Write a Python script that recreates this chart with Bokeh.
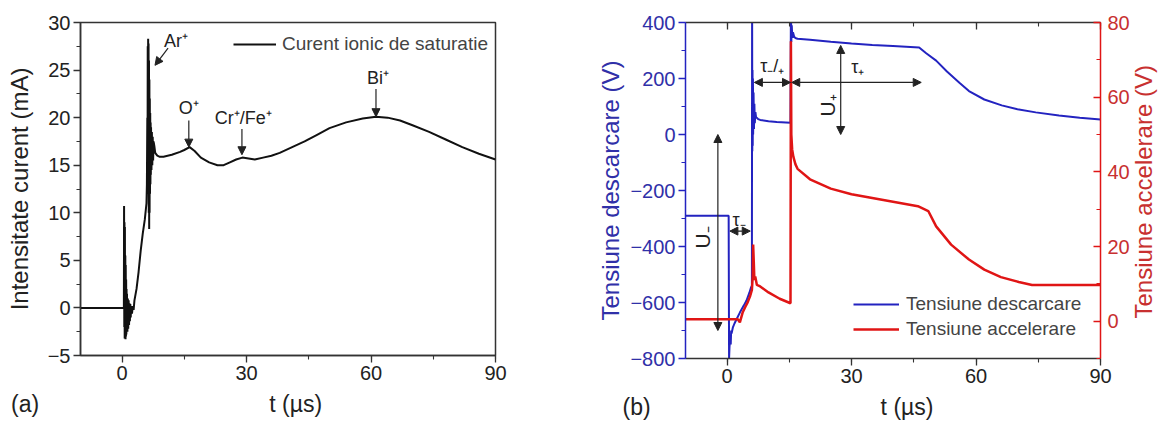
import math
from bokeh.plotting import figure
from bokeh.models import (Range1d, LinearAxis, SingleIntervalTicker, Arrow,
                          NormalHead, Label, Legend, LegendItem)
from bokeh.layouts import row
from bokeh.embed import file_html
from bokeh.resources import INLINE

FONT = "Liberation Sans"
BLUE = "#2323c0"
BLUE_TXT = "#3030a8"
RED = "#e01515"
RED_TXT = "#c83030"
INK = "#222222"
NB = "\u00a0"

# ---------------- data, panel (a) ----------------
t_a = [-10, 0.45, 0.5, 0.55, 0.6, 0.65, 0.7, 0.75, 0.8, 0.85,
       0.9, 0.95, 1.0, 1.05, 1.1, 1.15, 1.2, 1.3, 1.4, 1.5,
       1.6, 1.7, 1.8, 1.9, 2.0, 2.1, 2.2, 2.4, 2.6, 2.8,
       3.0, 3.5, 4.0, 4.5, 5.0, 5.5, 5.9, 6.0, 6.1, 6.15,
       6.2, 6.25, 6.3, 6.35, 6.4, 6.45, 6.5, 6.55, 6.6, 6.65,
       6.7, 6.75, 6.8, 6.85, 6.9, 6.95, 7.0, 7.1, 7.2, 7.3,
       7.4, 7.5, 7.6, 7.8, 8.0, 8.5, 9, 10, 12, 14,
       15, 16.3, 17.5, 19, 21, 23, 24.5, 26, 27.5, 29,
       30.5, 32, 34, 36, 38, 41, 44, 47, 50, 54,
       58, 61.2, 64, 67, 70, 74, 78, 82, 86, 90]
i_a = [0, 0, 10.7, -2, 9, -3.2, 8.5, -3, 5.5, -3.3,
       4.5, -3, 3, -2.8, 2, -2.5, 1.5, -2.5, 1.0, -2.2,
       0.8, -1.8, 0.5, -1.4, 0.4, -1.0, 0.2, -0.6, 0.2, -0.2,
       0.8, 2.0, 3.8, 6.0, 7.8, 9.3, 11.0, 13, 20, 12,
       27.5, 13, 28.3, 12, 27.8, 10, 26, 8.3, 24, 10,
       22, 12, 20.5, 13, 19.5, 14, 19, 14.5, 18.5, 15,
       18, 15.5, 17.5, 17, 16.3, 16.0, 15.9, 15.9, 16.1, 16.4,
       16.6, 16.9, 16.5, 15.8, 15.3, 15.0, 15.0, 15.3, 15.6, 15.8,
       15.7, 15.6, 15.8, 16.0, 16.3, 16.9, 17.5, 18.2, 18.9, 19.5,
       19.9, 20.1, 20.0, 19.7, 19.2, 18.5, 17.7, 16.9, 16.2, 15.6]

# ---------------- data, panel (b) ----------------
t_d = [-10, 0.4, 0.5, 0.6, 0.8, 0.9, 1.0, 1.1, 1.4, 1.8,
       2.3, 3.1, 4.0, 4.7, 5.4, 5.8, 6.0, 6.05, 6.1, 6.15,
       6.2, 6.25, 6.3, 6.4, 6.5, 6.6, 6.7, 6.85, 7.0, 7.5,
       8.0, 10, 12, 15.3, 15.4, 15.5, 15.6, 15.75, 15.9, 16.2,
       16.6, 17, 20, 25, 30, 35, 40, 46.3, 48, 50.4,
       53, 56, 58.3, 62, 66.2, 70, 74.4, 80, 85, 90]
v_d = [-290, -290, -800, -760, -720, -750, -700, -711, -690, -675,
       -660, -636, -612, -593, -565, -546, -540, 480, -60, 230,
       -40, 200, 0, 150, 20, 110, 40, 80, 62, 55,
       52, 47, 45, 42, 470, 330, 390, 345, 365, 348,
       344, 342, 338, 331, 325, 320, 316, 311, 290, 264,
       225, 185, 155, 125, 104, 90, 79, 68, 60, 54]

t_r = [-10, 2.6, 3.1, 3.8, 4.4, 5.0, 5.6, 6.0, 6.2, 6.3,
       6.45, 6.6, 6.8, 7.2, 8.0, 10, 12.7, 15.3, 15.4, 15.5,
       15.7, 16, 16.5, 17, 20, 25, 30, 35, 40, 46,
       48.5, 50.4, 54, 58.3, 62, 66, 70.3, 73.5, 80, 90]
v_r = [0.5, 0.5, -0.3, 2.4, 3.8, 5.1, 6.8, 8.4, 12, 20.5,
       16, 11, 12, 9.7, 9.3, 7.7, 6.0, 4.8, 75, 50,
       46, 44, 42, 40.8, 38, 35.5, 34, 33, 32, 30.8,
       29.5, 25.4, 20.5, 16.5, 13.8, 11.8, 10.5, 9.7, 9.7, 9.7]

x_ticks_step = 30
y_a_step = 5
y_d_step = 200
y_r_step = 20

TICK_FS = "20px"
AXLAB_FS = "24px"
XLAB_FS = "23px"


def style_axis(ax, color, txt_color, out=7, inn=0, mout=4, minn=0):
    ax.axis_line_color = color
    ax.axis_line_width = 1.5
    ax.major_tick_line_color = color
    ax.minor_tick_line_color = color
    ax.major_tick_line_width = 1.3
    ax.minor_tick_line_width = 1.1
    ax.major_tick_out = out
    ax.major_tick_in = inn
    ax.minor_tick_out = mout
    ax.minor_tick_in = minn
    ax.major_label_text_font = FONT
    ax.major_label_text_font_size = TICK_FS
    ax.major_label_text_color = txt_color
    ax.axis_label_text_font = FONT
    ax.axis_label_text_font_size = AXLAB_FS
    ax.axis_label_text_font_style = "normal"
    ax.axis_label_text_color = txt_color


def arrow(p, x0, y0, x1, y1, both=False):
    head = NormalHead(size=8, fill_color=INK, line_color=INK)
    start = NormalHead(size=8, fill_color=INK, line_color=INK) if both else None
    p.add_layout(Arrow(start=start, end=head, x_start=x0, y_start=y0,
                       x_end=x1, y_end=y1, line_color=INK, line_width=1.2))


def label(p, x, y, text, size="18px", angle=0.0, align="center",
          baseline="middle", color=INK):
    p.add_layout(Label(x=x, y=y, text=text, text_font=FONT,
                       text_font_size=size, text_color=color, angle=angle,
                       text_align=align, text_baseline=baseline))


# ---------------- panel (a) ----------------
pa = figure(width=583, height=423, frame_width=415, frame_height=333,
            x_range=Range1d(-10, 90), y_range=Range1d(-5, 30),
            output_backend="svg", toolbar_location=None,
            min_border_left=80, min_border_right=88,
            min_border_top=22, min_border_bottom=68)
pa.grid.visible = False
pa.outline_line_color = "#333333"
pa.outline_line_width = 1.5
pa.xaxis.ticker = SingleIntervalTicker(interval=x_ticks_step, num_minor_ticks=2)
pa.yaxis.ticker = SingleIntervalTicker(interval=y_a_step, num_minor_ticks=2)
pa.xaxis.axis_label = "(a)" + NB * 36 + "t (µs)" + NB * 38
pa.yaxis.axis_label = "Intensitate curent (mA)"
style_axis(pa.xaxis[0], "#333333", INK)
style_axis(pa.yaxis[0], "#333333", INK)
pa.xaxis.axis_label_text_font_size = XLAB_FS
pa.xaxis.major_label_standoff = 3
pa.xaxis.axis_label_standoff = 8
pa.yaxis.major_label_standoff = 3
pa.yaxis.axis_label_standoff = 12

ra = pa.line(t_a, i_a, line_color="#111111", line_width=2)
leg_a = Legend(items=[LegendItem(label="Curent ionic de saturatie", renderers=[ra])],
               location=(153, 300), border_line_color=None,
               background_fill_alpha=0, label_text_font=FONT,
               label_text_font_size="19px", glyph_width=43,
               label_standoff=6, padding=4, margin=0)
pa.add_layout(leg_a)

label(pa, 13, 28.1, "Ar⁺")
arrow(pa, 11.1, 27.3, 7.95, 25.5)
label(pa, 16.1, 21.0, "O⁺")
arrow(pa, 16.1, 19.7, 16.1, 16.9)
label(pa, 29.2, 20.0, "Cr⁺/Fe⁺")
arrow(pa, 28.9, 18.8, 28.9, 16.1)
label(pa, 61.7, 24.2, "Bi⁺")
arrow(pa, 61.2, 23.0, 61.2, 20.1)

# ---------------- panel (b) ----------------
pb = figure(width=584, height=423, frame_width=415, frame_height=336,
            x_range=Range1d(-10, 90), y_range=Range1d(-800, 400),
            output_backend="svg", toolbar_location=None,
            min_border_left=102, min_border_right=67,
            min_border_top=17, min_border_bottom=70)
pb.extra_y_ranges = {"acc": Range1d(-10, 80)}
pb.grid.visible = False
pb.outline_line_color = None
pb.xaxis.ticker = SingleIntervalTicker(interval=x_ticks_step, num_minor_ticks=2)
pb.yaxis.ticker = SingleIntervalTicker(interval=y_d_step, num_minor_ticks=2)
pb.xaxis.axis_label = "(b)" + NB * 36 + "t (µs)" + NB * 36
pb.yaxis.axis_label = "Tensiune descarcare (V)"
style_axis(pb.xaxis[0], "#333333", INK)
style_axis(pb.yaxis[0], BLUE, BLUE_TXT)
pb.xaxis.axis_label_text_font_size = XLAB_FS
pb.xaxis.major_label_standoff = 3
pb.xaxis.axis_label_standoff = 8
pb.yaxis.major_label_standoff = 3
pb.yaxis.axis_label_standoff = 3

r_label = "Tensiune accelerare (V)"
ax_r = LinearAxis(y_range_name="acc",
                  ticker=SingleIntervalTicker(interval=y_r_step, num_minor_ticks=2))
style_axis(ax_r, RED, RED_TXT, out=0, inn=7, mout=0, minn=4)
ax_r.major_label_standoff = 7
ax_r.axis_label_standoff = 11
axis_props = LinearAxis.properties()
if "axis_label_orientation" in axis_props and "axis_label_align" in axis_props:
    ax_r.axis_label_orientation = math.pi / 2
    ax_r.axis_label_align = "start"
    ax_r.axis_label = NB * 6 + r_label
else:
    ax_r.axis_label = r_label
pb.add_layout(ax_r, "right")

ax_t = LinearAxis(ticker=SingleIntervalTicker(interval=x_ticks_step, num_minor_ticks=2))
style_axis(ax_t, "#333333", INK, out=0, inn=7, mout=0, minn=4)
ax_t.major_label_text_font_size = "1px"
ax_t.major_label_text_color = None
ax_t.major_label_standoff = 0
pb.add_layout(ax_t, "above")

rb = pb.line(t_d, v_d, line_color=BLUE, line_width=2)
rr = pb.line(t_r, v_r, line_color=RED, line_width=2.5, y_range_name="acc")

leg_b = Legend(items=[LegendItem(label="Tensiune descarcare", renderers=[rb]),
                      LegendItem(label="Tensiune accelerare", renderers=[rr])],
               location=(168, 18), border_line_color=None,
               background_fill_alpha=0, label_text_font=FONT,
               label_text_font_size="19px", glyph_width=46,
               label_standoff=7, padding=4, margin=0, spacing=3)
pb.add_layout(leg_b)

arrow(pb, -2.2, 0, -2.2, -700, both=True)
label(pb, -5.8, -368, "U₋", size="21px", angle=math.pi / 2)
arrow(pb, 0.7, -345, 5.6, -345, both=True)
label(pb, 2.9, -305, "τ₋", size="18px")
arrow(pb, 6.6, 186, 15.3, 186, both=True)
label(pb, 10.9, 208, "τ₋/₊", size="18px", baseline="bottom")
arrow(pb, 15.6, 186, 46.8, 186, both=True)
label(pb, 31.5, 205, "τ₊", size="18px", baseline="bottom")
arrow(pb, 27.4, 318, 27.4, 0, both=True)
label(pb, 24.2, 104, "U₊", size="21px", angle=math.pi / 2)

layout = row(pa, pb)
open("out.html", "w").write(file_html(layout, INLINE))
